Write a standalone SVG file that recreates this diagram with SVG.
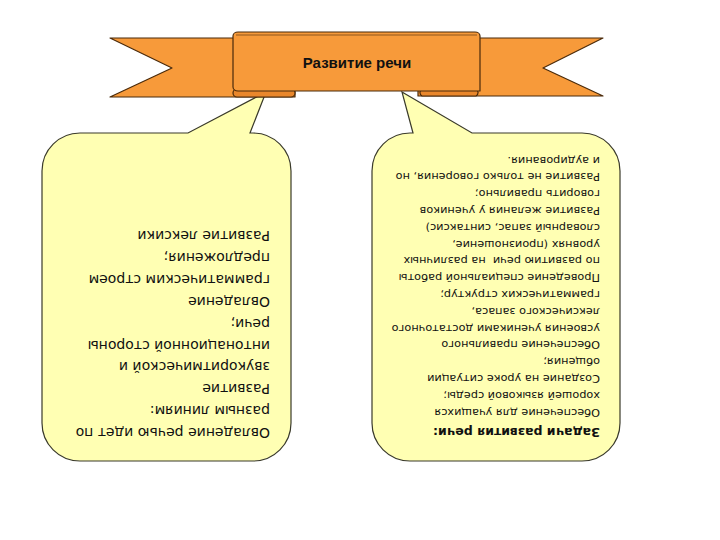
<svg xmlns="http://www.w3.org/2000/svg" width="720" height="540" viewBox="0 0 720 540">
<style>
.bub{fill:#FFFFB3;stroke:#3a3a2a;stroke-width:1.2}
.ban{fill:#F79A3A;stroke:#4a2a0a;stroke-width:1.2;stroke-linejoin:round}
.fold{fill:#E9872C;stroke:#4a2a0a;stroke-width:1.2}
.tl{font-family:"DejaVu Sans",sans-serif;font-size:14px;fill:#111}
.tr{font-family:"DejaVu Sans",sans-serif;font-size:11.3px;fill:#111}
.th{font-family:"DejaVu Sans",sans-serif;font-size:12.5px;font-weight:bold;fill:#111}
.bt{font-family:"Liberation Sans",sans-serif;font-size:15px;font-weight:bold;fill:#111}
</style>
<rect width="720" height="540" fill="#fff"/>
<g id="connectors"></g>
<g id="bubble-left">
<path class="bub" d="M80,133 L188,133 L266,92 L250,133 L253,133 A38,38 0 0 1 291,171 L291,423 A38,38 0 0 1 253,461 L80,461 A38,38 0 0 1 42,423 L42,171 A38,38 0 0 1 80,133 Z"/>
<g transform="rotate(180 166.5 297)">
<text class="tl" x="63" y="166">Овладение речью идет по</text>
<text class="tl" x="63" y="187.9">разным линиям:</text>
<text class="tl" x="63" y="209.7">Развитие</text>
<text class="tl" x="63" y="231.6">звукоритмической и</text>
<text class="tl" x="63" y="253.4">интонационной стороны</text>
<text class="tl" x="63" y="275.3">речи;</text>
<text class="tl" x="63" y="297.1">Овладение</text>
<text class="tl" x="63" y="319">грамматическим строем</text>
<text class="tl" x="63" y="340.8">предложения;</text>
<text class="tl" x="63" y="362.7">Развитие лексики</text>
</g>
</g>
<g id="bubble-right">
<path class="bub" d="M410,133 L413,133 L402,92 L472,133 L582,133 A38,38 0 0 1 620,171 L620,423 A38,38 0 0 1 582,461 L410,461 A38,38 0 0 1 372,423 L372,171 A38,38 0 0 1 410,133 Z"/>
<g transform="rotate(180 496 297)">
<text class="th" x="392" y="166">Задачи развития речи:</text>
<text class="tr" x="392" y="185.5">Обеспечение для учащихся</text>
<text class="tr" x="392" y="202.3">хорошей языковой среды;</text>
<text class="tr" x="392" y="219.1">Создание на уроке ситуации</text>
<text class="tr" x="392" y="235.9">общения;</text>
<text class="tr" x="392" y="252.7">Обеспечение правильного</text>
<text class="tr" x="392" y="269.5">усвоения учениками достаточного</text>
<text class="tr" x="392" y="286.3">лексического запаса,</text>
<text class="tr" x="392" y="303.1">грамматических структур;</text>
<text class="tr" x="392" y="319.9">Проведение специальной работы</text>
<text class="tr" x="392" y="336.7" xml:space="preserve">по развитию речи  на различных</text>
<text class="tr" x="392" y="353.5">уровнях (произношение,</text>
<text class="tr" x="392" y="370.3">словарный запас, синтаксис)</text>
<text class="tr" x="392" y="387.1">Развитие желания у учеников</text>
<text class="tr" x="392" y="403.9">говорить правильно;</text>
<text class="tr" x="392" y="420.7">Развитие не только говорения, но</text>
<text class="tr" x="392" y="437.5">и аудирования.</text>
</g>
</g>
<g id="banner">
<path class="ban" d="M110,38 L295,38 L295,97 L110,97 L172,68 Z"/>
<path class="ban" d="M418,38 L603,38 L543,68 L603,96 L418,96 Z"/>
<path class="fold" d="M237,89 L291,89 A4,4 0 0 1 291,97 L237,97 A4,4 0 0 1 237,89 Z"/>
<path class="fold" d="M422,89 L476,89 A4,4 0 0 1 476,96 L422,96 A4,4 0 0 1 422,89 Z"/>
<path class="ban" d="M238,32 L475,32 A5,4 0 0 1 480,36 L480,91 L238,91 A5,4 0 0 1 233,87 L233,36 A5,4 0 0 1 238,32 Z"/>
<path d="M236,35 L477,35" fill="none" stroke="#4a2a0a" stroke-width="0.6"/>
<text class="bt" x="357" y="68" text-anchor="middle">Развитие речи</text>
</g>
</svg>
